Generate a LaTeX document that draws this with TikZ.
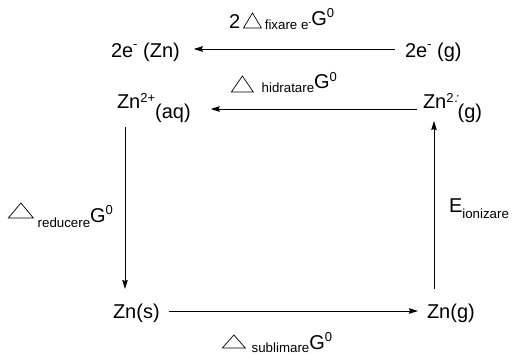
\documentclass[tikz,border=0pt]{standalone}
\usepackage{fontspec}
\setmainfont{Liberation Sans}
\newfontfamily\slfont[FakeSlant=0.3]{Liberation Sans}
\usetikzlibrary{arrows.meta}
\newcommand\bigfs{\fontsize{20}{22}\selectfont}
\newcommand\subfs{\fontsize{13.3}{15}\selectfont}
\newcommand\supfs{\fontsize{13}{15}\selectfont}
\newcommand\tri[2]{\tikz[baseline=0pt]\draw[line width=0.7pt,line join=miter] (0pt,0pt) -- (#1pt,0pt) -- (#1pt/2,#2pt) -- cycle;}
\begin{document}
\begin{tikzpicture}[x=1pt,y=-1pt,
  lab/.style={inner sep=0pt, outer sep=0pt, anchor=base west, font=\bigfs},
  arr/.style={-{Stealth[length=9pt,width=5.5pt,inset=1pt]}, line width=0.9pt}]
\useasboundingbox[fill=white] (0,0) rectangle (515,354);
% species
\node[lab] (zne) at (111,57) {2e\raisebox{9pt}{\supfs -} (Zn)};
\node[lab] (eg) at (405,57) {2e\raisebox{9pt}{\supfs -} (g)};
\node[lab] (zaq) at (117,108) {Zn\raisebox{6pt}{\supfs 2+}\raisebox{-10pt}{(aq)}};
\node[lab] (zg2) at (423,108) {Zn\raisebox{6pt}{\supfs 2\kern0.5pt{\slfont :}}\raisebox{-10pt}{(g)}};
\node[lab] (zs) at (113,318) {Zn(s)};
\node[lab] (zg) at (427,318) {Zn(g)};
% connectors
\draw[arr, shorten <=10pt, shorten >=14pt] ([yshift=8pt]eg.base west) -- ([yshift=8pt]zne.base east);
\draw[arr, shorten <=6pt, shorten >=20pt] ([yshift=-1pt]zg2.base west) -- ([yshift=-1pt]zaq.base east);
\draw[arr, shorten <=9pt, shorten >=9pt] ([yshift=7pt]zs.base east) -- ([yshift=7pt]zg.base west);
\draw[arr] ([xshift=8pt,yshift=-19pt]zaq.base west) -- ([xshift=12pt,yshift=29pt]zs.base west);
\draw[arr] ([xshift=7pt,yshift=29pt]zg.base west) -- ([xshift=11pt,yshift=-13pt]zg2.base west);
% labels
\node[lab] (lfix) at (229,28) {2\kern3pt\tri{18}{15}\kern3pt\raisebox{-1pt}{\subfs fixare e\raisebox{4pt}{\fontsize{9}{9}\selectfont -}}\raisebox{3pt}{G\raisebox{7.5pt}{\supfs 0}}};
\node[lab] (lhid) at (231,92) {\tri{22}{16}\kern8pt{\subfs hidratare}\raisebox{4pt}{G\raisebox{7pt}{\supfs 0}}};
\node[lab] (lred) at (8,218) {\tri{25}{15}\kern4pt\raisebox{-9pt}{\subfs reducere}\raisebox{-4pt}{G\raisebox{8pt}{\supfs 0}}};
\node[lab] (lion) at (449,212) {E\raisebox{-6pt}{\subfs ionizare}};
\node[lab] (lsub) at (222,348) {\tri{23}{13}\kern6pt\raisebox{-4pt}{\subfs sublimare}\raisebox{-1pt}{G\raisebox{8pt}{\supfs 0}}};
\end{tikzpicture}
\end{document}
